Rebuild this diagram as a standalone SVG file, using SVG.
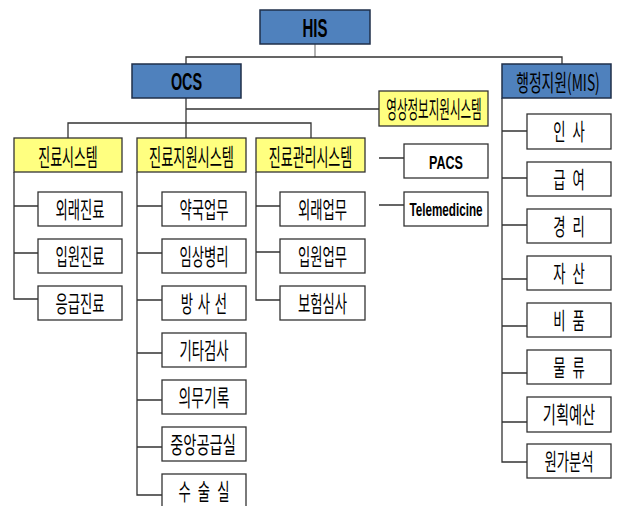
<svg xmlns="http://www.w3.org/2000/svg" width="618" height="506" viewBox="0 0 618 506">
<style>
.blue{fill:#4F81BD;stroke:#1F2F4A;stroke-width:1.5}
.yel{fill:#FFFF80;stroke:#333;stroke-width:1.3}
.box{fill:#fff;stroke:#333;stroke-width:1.3}
.ln{fill:none;stroke:#333;stroke-width:1.3}
.kt{font-family:"Noto Sans CJK KR",sans-serif;font-size:23px;text-anchor:middle;fill:#000}
.ky{font-size:24px}
.bt{font-family:"Liberation Sans",Arial,sans-serif;font-weight:bold;text-anchor:middle;fill:#000}
</style>
<rect width="618" height="506" fill="#fff"/>
<g id="connectors">
<path class="ln" d="M315 44V57" style="stroke:#888"/>
<path class="ln" d="M186 64V57H562V64"/>
<path class="ln" d="M186 98V138"/>
<path class="ln" d="M186 109H379"/>
<path class="ln" d="M68 138V123H311V138"/>
<path class="ln" d="M14 172V299H38M14 206H38M14 253H38"/>
<path class="ln" d="M137 172V495H162M137 206H162M137 253H162M137 300H162M137 353H162M137 400H162M137 447H162"/>
<path class="ln" d="M256 172V300H280M256 206H280M256 252H280"/>
<path class="ln" d="M379 158H404M379 205H404"/>
<path class="ln" d="M502 98V462H527M502 131H527M502 178H527M502 225H527M502 279H527M502 326H527M502 373H527M502 422H527"/>
</g>
<g id="his"><rect class="blue" x="260" y="10" width="110" height="34"/><text class="bt" font-size="25" transform="translate(315,37) scale(0.6,1)">HIS</text></g>
<g id="ocs"><rect class="blue" x="132" y="64" width="109" height="34"/><text class="bt" font-size="24" transform="translate(186.5,90) scale(0.6,1)">OCS</text></g>
<g id="mis"><rect class="blue" x="502" y="64" width="109" height="34"/><text class="kt" font-size="25" transform="translate(558,91) scale(0.6,1)">행정지원(MIS)</text></g>
<g id="imaging"><rect class="yel" x="379" y="91" width="109" height="35"/><text class="kt ky" transform="translate(434,118) scale(0.48,1)">영상정보지원시스템</text></g>
<g id="clinical"><rect class="yel" x="14" y="138" width="108" height="34"/><text class="kt ky" transform="translate(68,165.5) scale(0.54,1)">진료시스템</text></g>
<g id="support"><rect class="yel" x="137" y="138" width="109" height="34"/><text class="kt ky" transform="translate(191.5,165.5) scale(0.55,1)">진료지원시스템</text></g>
<g id="mgmt"><rect class="yel" x="256" y="138" width="109" height="34"/><text class="kt ky" transform="translate(310.5,165.5) scale(0.54,1)">진료관리시스템</text></g>
<g id="pacs"><rect class="box" x="404" y="144" width="84" height="34"/><text class="bt" font-size="19" transform="translate(446,169) scale(0.66,1)">PACS</text></g>
<g id="tele"><rect class="box" x="404" y="192" width="84" height="34"/><text class="bt" font-size="18" transform="translate(446,216) scale(0.65,1)">Telemedicine</text></g>
<g id="c1"><rect class="box" x="38" y="192" width="84" height="34"/><text class="kt" transform="translate(80,218) scale(0.58,1)">외래진료</text></g>
<g id="c2"><rect class="box" x="38" y="239" width="84" height="34"/><text class="kt" transform="translate(80,265) scale(0.58,1)">입원진료</text></g>
<g id="c3"><rect class="box" x="38" y="286" width="84" height="34"/><text class="kt" transform="translate(80,312) scale(0.58,1)">응급진료</text></g>
<g id="s1"><rect class="box" x="162" y="192" width="84" height="34"/><text class="kt" transform="translate(204,218) scale(0.58,1)">약국업무</text></g>
<g id="s2"><rect class="box" x="162" y="239" width="84" height="34"/><text class="kt" transform="translate(204,265) scale(0.58,1)">임상병리</text></g>
<g id="s3"><rect class="box" x="162" y="286" width="84" height="34"/><text class="kt" word-spacing="3" transform="translate(204,312) scale(0.58,1)">방 사 선</text></g>
<g id="s4"><rect class="box" x="162" y="333" width="84" height="34"/><text class="kt" transform="translate(204,359) scale(0.58,1)">기타검사</text></g>
<g id="s5"><rect class="box" x="162" y="380" width="84" height="34"/><text class="kt" transform="translate(204,406) scale(0.6,1)">의무기록</text></g>
<g id="s6"><rect class="box" x="162" y="427" width="84" height="34"/><text class="kt" transform="translate(203,453) scale(0.62,1)">중앙공급실</text></g>
<g id="s7"><rect class="box" x="162" y="474" width="84" height="36"/><text class="kt" word-spacing="7" transform="translate(204,500) scale(0.58,1)">수 술 실</text></g>
<g id="m1"><rect class="box" x="280" y="192" width="85" height="34"/><text class="kt" transform="translate(322.5,218) scale(0.58,1)">외래업무</text></g>
<g id="m2"><rect class="box" x="280" y="239" width="85" height="34"/><text class="kt" transform="translate(322.5,265) scale(0.58,1)">입원업무</text></g>
<g id="m3"><rect class="box" x="280" y="286" width="85" height="34"/><text class="kt" transform="translate(322.5,312) scale(0.58,1)">보험심사</text></g>
<g id="a1"><rect class="box" x="527" y="114" width="84" height="35"/><text class="kt" word-spacing="7" transform="translate(569,140) scale(0.58,1)">인 사</text></g>
<g id="a2"><rect class="box" x="527" y="162" width="84" height="34"/><text class="kt" word-spacing="7" transform="translate(569,188) scale(0.58,1)">급 여</text></g>
<g id="a3"><rect class="box" x="527" y="209" width="84" height="34"/><text class="kt" word-spacing="7" transform="translate(569,235) scale(0.58,1)">경 리</text></g>
<g id="a4"><rect class="box" x="527" y="256" width="84" height="34"/><text class="kt" word-spacing="7" transform="translate(569,282) scale(0.58,1)">자 산</text></g>
<g id="a5"><rect class="box" x="527" y="303" width="84" height="34"/><text class="kt" word-spacing="7" transform="translate(569,329) scale(0.58,1)">비 품</text></g>
<g id="a6"><rect class="box" x="527" y="350" width="84" height="34"/><text class="kt" word-spacing="7" transform="translate(569,376) scale(0.58,1)">물 류</text></g>
<g id="a7"><rect class="box" x="527" y="397" width="84" height="35"/><text class="kt" transform="translate(569,423) scale(0.62,1)">기획예산</text></g>
<g id="a8"><rect class="box" x="527" y="444" width="84" height="34"/><text class="kt" transform="translate(569,470) scale(0.58,1)">원가분석</text></g>
</svg>
